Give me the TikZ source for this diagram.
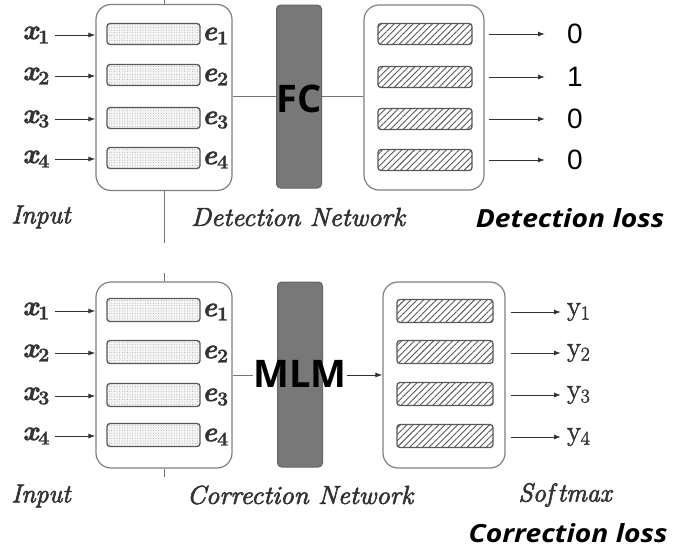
\documentclass[tikz,border=0pt]{standalone}
\usepackage{amsmath}
\usepackage{fontspec}
\newfontfamily\osans{Open Sans}
\newfontfamily\lsans{Liberation Sans}
\newfontfamily\lmheavy{Latin Modern Roman}[UprightFeatures={FakeBold=2}, ItalicFeatures={FakeBold=2.5}, BoldFeatures={FakeBold=1.5}, BoldItalicFeatures={FakeBold=1.5}]
\newcommand{\xl}[2]{{\bfseries\itshape #1}\textsubscript{\bfseries #2}}
\usetikzlibrary{patterns.meta,arrows.meta,calc}
\tikzset{
  outerbox/.style={draw=black!50, line width=1.2pt, rounded corners=15pt, inner sep=0pt, minimum height=186pt},
  embbox/.style={draw=black!65, line width=1.3pt, rounded corners=3pt, inner sep=0pt, minimum width=93pt, minimum height=21pt, preaction={fill=gray!8}, pattern={Dots[radius=0.45pt,distance=2.6pt]}, pattern color=gray!75},
  hatchbox/.style={draw=black!65, line width=1.3pt, rounded corners=3pt, inner sep=0pt, minimum width=94pt, minimum height=21pt, preaction={fill=white}, pattern={Lines[angle=45,distance=4.5pt,line width=0.9pt]}, pattern color=black!65},
  bar/.style={draw=black!60, fill=black!53, line width=1pt, rounded corners=4pt, inner sep=0pt, minimum width=45pt},
  arr/.style={-{Latex[length=7pt,width=5pt]}, line width=1pt, black!80},
  conn/.style={line width=1pt, black!55},
  mlab/.style={text=black!80, font=\lmheavy\fontsize{28}{30}\selectfont, inner sep=0pt},
  ylab/.style={text=black!80, font=\lmheavy\fontsize{28}{30}\selectfont, inner sep=0pt},
  numlab/.style={font=\lsans\fontsize{28}{32}\selectfont, inner sep=0pt},
  caplab/.style={text=black!80, font=\lmheavy\itshape\fontsize{26}{28}\selectfont, inner sep=0pt},
  losslab/.style={font=\osans\bfseries\itshape\fontsize{25}{28}\selectfont, inner sep=0pt},
  biglab/.style={font=\osans\bfseries\fontsize{38}{42}\selectfont, inner sep=0pt},
}
\begin{document}
\begin{tikzpicture}[x=1pt,y=-1pt]
\useasboundingbox[fill=white] (0,0) rectangle (678,558);

% ---------- top panel ----------
\coordinate (vt1) at (164,0);
\coordinate (vb1) at (164,243);
\node[outerbox, minimum width=136pt] (L1) at (164,97.5) {};
\draw[conn] (vt1) -- (L1.north);
\draw[conn] (L1.south) -- (vb1);
\foreach \i/\y in {1/34,2/75,3/118,4/158}{
  \node[embbox] (ea\i) at (153.5,\y) {};
  \node[mlab, anchor=west] (ela\i) at (202,\y+2) {\xl{e}{\i}};
  \node[mlab, anchor=east] (xa\i) at (50,\y+1) {\xl{x}{\i}};
  \draw[arr] ($(xa\i.east)+(5,0)$) -- (xa\i.east -| L1.west);
}
\node[bar, minimum height=183pt] (fc) at (299,96.5) {};
\node[outerbox, minimum width=120pt, minimum height=185pt] (R1) at (424,97.5) {};
\draw[conn] (L1.east |- fc) -- (fc.west);
\draw[conn] (fc.east) -- (R1.west |- fc);
\node[biglab] (fct) at (299,99) {FC};
\foreach \i/\y/\v in {1/34/0,2/77/1,3/119/0,4/160/0}{
  \node[hatchbox] (ha\i) at (425,\y) {};
  \node[numlab] (na\i) at (575,\y) {\v};
  \draw[arr] ($(R1.east |- na\i)+(4,0)$) -- ($(na\i.west)+(-22,0)$);
}
\node[caplab] (in1) at (41,217) {Input};
\node[caplab] (dn) at (298,217) {\scalebox{1.04}[1]{Detection Network}};
\node[losslab] (dl) at (570,218) {\scalebox{1.13}[1]{Detection loss}};

% ---------- bottom panel ----------
\coordinate (vt2) at (164,273);
\coordinate (vb2) at (164,477);
\node[outerbox, minimum width=136pt] (L2) at (164,375) {};
\draw[conn] (vt2) -- (L2.north);
\draw[conn] (L2.south) -- (vb2);
\foreach \i/\y in {1/310,2/352,3/395,4/435}{
  \node[embbox, minimum height=23pt] (eb\i) at (153.5,\y) {};
  \node[mlab, anchor=west] (elb\i) at (202,\y+2) {\xl{e}{\i}};
  \node[mlab, anchor=east] (xb\i) at (50,\y+1) {\xl{x}{\i}};
  \draw[arr] ($(xb\i.east)+(5,0)$) -- (xb\i.east -| L2.west);
}
\node[bar, minimum height=185pt] (mlm) at (300,374.5) {};
\node[outerbox, minimum width=122pt] (R2) at (444,375) {};
\node[biglab] (mlmt) at (300,374) {MLM};
\draw[conn] (L2.east) -- (mlmt.west |- L2.east);
\draw[arr] (mlmt.east |- R2.west) -- (R2.west);
\foreach \i/\y in {1/312,2/353,3/395,4/437}{
  \node[hatchbox, minimum width=96pt, minimum height=23pt] (hb\i) at (445,\y-1) {};
  \node[ylab, anchor=west] (yb\i) at (567,\y) {y\textsubscript{\i}};
  \draw[arr] ($(R2.east |- yb\i)+(5,0)$) -- ($(yb\i.west)+(-6,0)$);
}
\node[caplab] (in2) at (41,496) {Input};
\node[caplab] (cn) at (300,495) {\scalebox{1.04}[1]{Correction Network}};
\node[caplab] (sm) at (565,495) {Sof\hspace{4pt}tmax};
\node[losslab] (cl) at (568,533) {\scalebox{1.13}[1]{Correction loss}};
\end{tikzpicture}
\end{document}
